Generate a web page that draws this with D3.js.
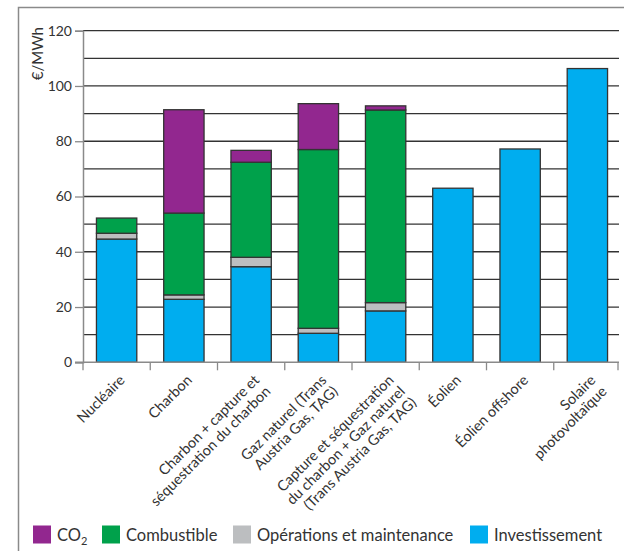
<!DOCTYPE html>
<html>
<head>
<meta charset="utf-8">
<script src="https://cdn.jsdelivr.net/npm/d3@7"></script>
<style>
  html, body { margin: 0; padding: 0; background: #fff; }
  svg { display: block; font-family: Lato, "Noto Sans", sans-serif; }
</style>
</head>
<body>
<svg id="chart" width="624" height="551"></svg>
<script>
// Production cost by technology, €/MWh, split by cost component
const categories = [
  ["Nucléaire"],
  ["Charbon"],
  ["Charbon + capture et", "séquestration du charbon"],
  ["Gaz naturel (Trans", "Austria Gas, TAG)"],
  ["Capture et séquestration", "du charbon + Gaz naturel", "(Trans Austria Gas, TAG)"],
  ["Éolien"],
  ["Éolien offshore"],
  ["Solaire", "photovoltaïque"]
];
const investissement = [44.6, 22.8, 34.6, 10.5, 18.6, 63.0, 77.2, 106.3];
const operations     = [2.1, 1.6, 3.4, 1.8, 3.0, 0, 0, 0];
const combustible    = [5.5, 29.6, 34.4, 64.7, 69.7, 0, 0, 0];
const co2            = [0, 37.4, 4.3, 16.6, 1.5, 0, 0, 0];

const seriesNames = ["Investissement", "Opérations et maintenance", "Combustible", "CO2"];
const seriesColors = ["#00adef", "#bcbec0", "#00a14b", "#92278f"];
const yTicks = [0, 20, 40, 60, 80, 100, 120];
const yGrid = [10, 20, 30, 40, 50, 60, 70, 80, 90, 100, 110, 120];

const svg = d3.select("#chart");

// outer frame
svg.append("rect")
  .attr("x", 18.5).attr("y", 7.5)
  .attr("width", 640).attr("height", 600)
  .attr("fill", "none").attr("stroke", "#8a8a8a").attr("stroke-width", 1.5);

const plotLeft = 83, plotRight = 618, plotTop = 30.7, plotBottom = 362.3;

const keys = categories.map(c => c.join(" "));
const x = d3.scaleBand().domain(keys).range([plotLeft, plotRight + 3]).paddingInner(0.4).paddingOuter(0.2);
const y = d3.scaleLinear().domain([0, 120]).range([plotBottom, plotTop]);

// grid
svg.append("g").selectAll("line").data(yGrid).join("line")
  .attr("x1", plotLeft).attr("x2", plotRight + 1)
  .attr("y1", d => y(d)).attr("y2", d => y(d))
  .attr("stroke", "#333").attr("stroke-width", 1.3);

// y axis
const yAxis = svg.append("g").attr("transform", `translate(${plotLeft},0)`)
  .call(d3.axisLeft(y).tickValues(yTicks).tickSize(8).tickPadding(3));
yAxis.select(".domain").attr("stroke", "#8a8a8a").attr("stroke-width", 1.5);
yAxis.selectAll(".tick line").attr("stroke", "#8a8a8a").attr("stroke-width", 1.3);
yAxis.selectAll(".tick text").attr("font-size", 14).attr("fill", "#333")
  .attr("font-family", "Lato, sans-serif");

svg.append("text")
  .attr("transform", `translate(43,27) rotate(-90)`)
  .attr("text-anchor", "end")
  .attr("font-size", 15).attr("fill", "#333")
  .text("€/MWh");

// stacked bars
const rows = keys.map((k, i) => ({
  key: k,
  "Investissement": investissement[i],
  "Opérations et maintenance": operations[i],
  "Combustible": combustible[i],
  "CO2": co2[i]
}));
const stacked = d3.stack().keys(seriesNames)(rows);

svg.append("g").selectAll("g").data(stacked).join("g")
  .attr("fill", (d, i) => seriesColors[i])
  .selectAll("rect").data(d => d.filter(s => s[1] - s[0] > 0)).join("rect")
  .attr("x", d => x(d.data.key))
  .attr("width", x.bandwidth())
  .attr("y", d => y(d[1]))
  .attr("height", d => y(d[0]) - y(d[1]))
  .attr("stroke", "#333").attr("stroke-width", 1.3);

// x axis
const step = x.step();
const tickXs = [plotLeft].concat(keys.slice(0, -1).map(k => x(k) + x.bandwidth() + step * x.paddingInner() / 2), [plotRight]);
svg.append("line")
  .attr("x1", plotLeft - 8).attr("x2", plotRight + 1)
  .attr("y1", plotBottom).attr("y2", plotBottom)
  .attr("stroke", "#8a8a8a").attr("stroke-width", 1.5);
svg.append("g").selectAll("line").data(tickXs).join("line")
  .attr("x1", d => d).attr("x2", d => d)
  .attr("y1", plotBottom).attr("y2", plotBottom + 8)
  .attr("stroke", "#8a8a8a").attr("stroke-width", 1.3);

// category labels, rotated
const lab = svg.append("g").selectAll("text").data(categories).join("text")
  .attr("transform", (d, i) => `translate(${x(keys[i]) + x.bandwidth() / 2 + 9},381) rotate(-45)`)
  .attr("text-anchor", "end")
  .attr("font-size", 14.5).attr("fill", "#333");
lab.selectAll("tspan").data(d => d).join("tspan")
  .attr("x", 0).attr("dy", (d, i) => i === 0 ? 0 : "1.1em")
  .text(d => d);

// legend
const legendItems = [
  { name: "CO", sub: "2", color: seriesColors[3], x: 33 },
  { name: "Combustible", color: seriesColors[2], x: 102 },
  { name: "Opérations et maintenance", color: seriesColors[1], x: 233 },
  { name: "Investissement", color: seriesColors[0], x: 470 }
];
const lg = svg.append("g").selectAll("g").data(legendItems).join("g")
  .attr("transform", d => `translate(${d.x},525.5)`);
lg.append("rect").attr("width", 18).attr("height", 18).attr("fill", d => d.color);
const lt = lg.append("text").attr("x", 24).attr("y", 15)
  .attr("font-size", 16.5).attr("fill", "#333");
lt.append("tspan").text(d => d.name);
lt.filter(d => d.sub).append("tspan")
  .attr("dy", 4).attr("font-size", 11).text(d => d.sub);
</script>
</body>
</html>
